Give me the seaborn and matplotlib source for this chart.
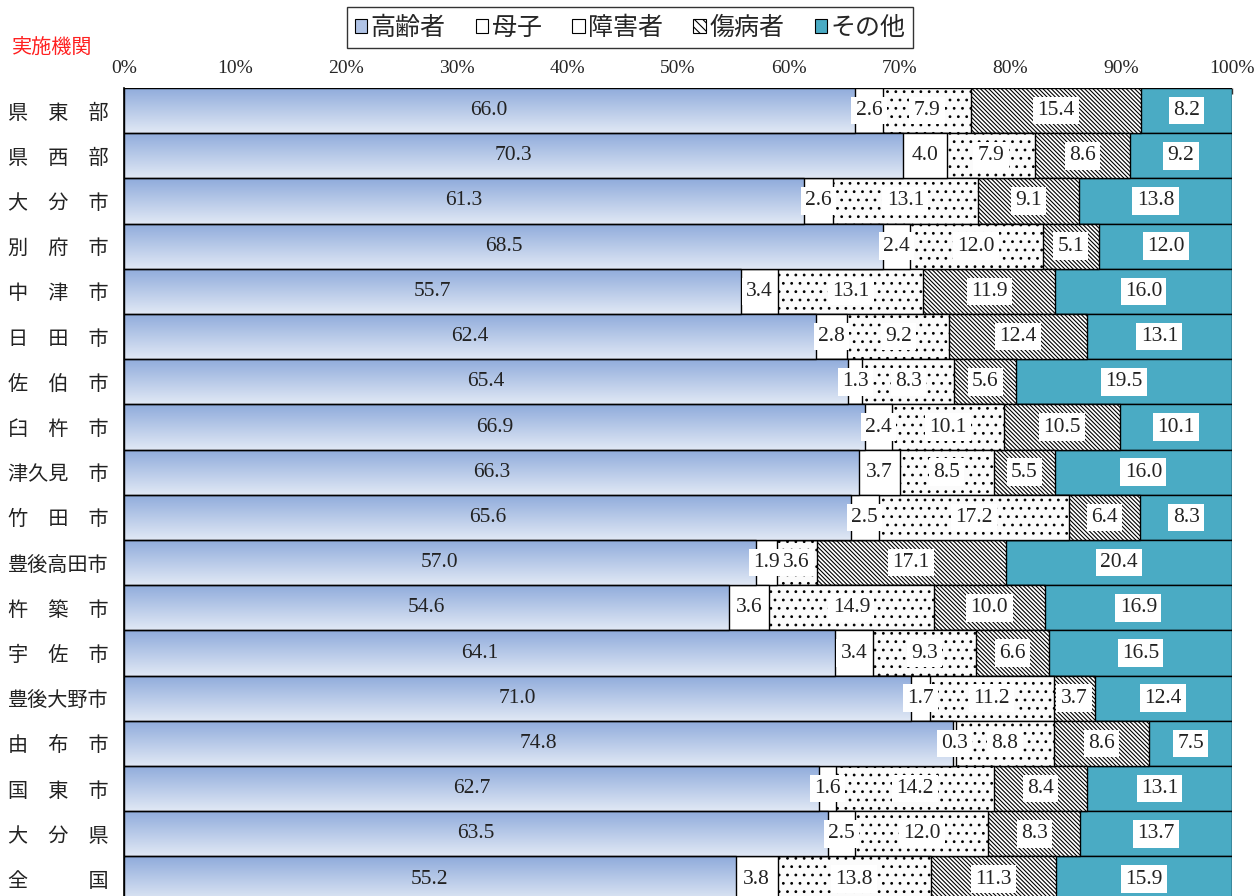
import numpy as np
import pandas as pd
import matplotlib
matplotlib.use("Agg")
import matplotlib.pyplot as plt
from matplotlib.patches import Patch
import seaborn as sns

# 実施機関（行ラベル）
areas = ["県　東　部", "県　西　部", "大　分　市", "別　府　市", "中　津　市",
         "日　田　市", "佐　伯　市", "臼　杵　市", "津久見　市", "竹　田　市",
         "豊後高田市", "杵　築　市", "宇　佐　市", "豊後大野市", "由　布　市",
         "国　東　市", "大　分　県", "全　　　国"]

# 世帯類型別の割合（%）
koreisha = [66.0, 70.3, 61.3, 68.5, 55.7, 62.4, 65.4, 66.9, 66.3, 65.6,
            57.0, 54.6, 64.1, 71.0, 74.8, 62.7, 63.5, 55.2]
boshi = [2.6, 4.0, 2.6, 2.4, 3.4, 2.8, 1.3, 2.4, 3.7, 2.5,
         1.9, 3.6, 3.4, 1.7, 0.3, 1.6, 2.5, 3.8]
shogaisha = [7.9, 7.9, 13.1, 12.0, 13.1, 9.2, 8.3, 10.1, 8.5, 17.2,
             3.6, 14.9, 9.3, 11.2, 8.8, 14.2, 12.0, 13.8]
shobyosha = [15.4, 8.6, 9.1, 5.1, 11.9, 12.4, 5.6, 10.5, 5.5, 6.4,
             17.1, 10.0, 6.6, 3.7, 8.6, 8.4, 8.3, 11.3]
sonota = [8.2, 9.2, 13.8, 12.0, 16.0, 13.1, 19.5, 10.1, 16.0, 8.3,
          20.4, 16.9, 16.5, 12.4, 7.5, 13.1, 13.7, 15.9]

series_names = ["高齢者", "母子", "障害者", "傷病者", "その他"]
x_ticks = [0, 10, 20, 30, 40, 50, 60, 70, 80, 90, 100]

sns.set_theme(style="white")
plt.rcParams["font.family"] = ["Noto Sans CJK JP", "DejaVu Sans"]
plt.rcParams["hatch.linewidth"] = 0.8
NUM_FONT = ["Liberation Serif", "DejaVu Serif"]

vals = np.array([koreisha, boshi, shogaisha, shobyosha, sonota])
pct = vals / vals.sum(axis=0) * 100
cum = np.cumsum(pct, axis=0)

fig = plt.figure(figsize=(12.54, 8.96), dpi=100)
ax = fig.add_axes([0.0989, -0.0063, 0.8836, 0.9081])

styles = [
    dict(color="none", hatch=None),
    dict(color="white", hatch=None),
    dict(color="#fbfbfb", hatch=".."),
    dict(color="white", hatch="\\" * 8),
    dict(color="#4aabc4", hatch=None),
]

# 累積値を後ろの系列から順に重ねて描く
for i in range(4, -1, -1):
    df = pd.DataFrame({"area": areas, "value": cum[i]})
    st = styles[i]
    sns.barplot(data=df, x="value", y="area", orient="h", ax=ax, width=1.0,
                color=st["color"], hatch=st["hatch"], edgecolor="black",
                linewidth=1.0, zorder=3 if i == 0 else 2, saturation=1)

# 高齢者のグラデーション
grad = np.linspace(0, 1, 64)[:, None]
top_c = np.array([0.56, 0.67, 0.86])
bot_c = np.array([0.88, 0.91, 0.96])
img = (top_c[None, None, :] * (1 - grad[:, :, None]) + bot_c[None, None, :] * grad[:, :, None])
for p in ax.containers[-1]:
    x0, y0, w, h = p.get_x(), p.get_y(), p.get_width(), p.get_height()
    im = ax.imshow(img, extent=(x0, x0 + w, y0 + h, y0), origin="upper",
                   aspect="auto", zorder=2.5, interpolation="bilinear")
    im.set_clip_path(p)

ax.set_xlim(0, 100)
ax.set_ylim(len(areas) - 0.5, -0.5)

# 数値ラベル
starts = np.vstack([np.zeros(len(areas)), cum[:-1]])
for i in range(5):
    for j in range(len(areas)):
        xc = starts[i, j] + pct[i, j] / 2
        box = None if i == 0 else dict(boxstyle="square,pad=0.2", fc="white", ec="none")
        ax.text(xc, j, f"{vals[i, j]:.1f}", ha="center", va="center",
                fontsize=15.5, family=NUM_FONT, color="#222222", bbox=box, zorder=5)

ax.xaxis.tick_top()
ax.set_xticks(x_ticks)
ax.set_xticklabels([f"{t}%" for t in x_ticks], family=NUM_FONT, fontsize=14)
ax.tick_params(axis="x", direction="in", length=4, width=1, color="#333333", pad=8, top=True)
ax.tick_params(axis="y", length=0, pad=83.5)
ax.set_yticks(range(len(areas)))
ax.set_yticklabels(areas, fontsize=14.5, color="#222222", ha="left")
ax.set_xlabel("")
ax.set_ylabel("")
for s in ["top", "right", "bottom"]:
    ax.spines[s].set_visible(False)
ax.spines["left"].set_color("black")
ax.spines["left"].set_linewidth(1.2)

fig.text(0.0096, 0.947, "実施機関", color="#ff2020", fontsize=14.5, va="center", ha="left")

handles = [
    Patch(facecolor="#b0c3e6", edgecolor="black", linewidth=0.8),
    Patch(facecolor="white", edgecolor="black", linewidth=0.8),
    Patch(facecolor="white", edgecolor="black", linewidth=0.8),
    Patch(facecolor="white", edgecolor="black", linewidth=0.8, hatch="\\" * 4),
    Patch(facecolor="#4aabc4", edgecolor="black", linewidth=0.8),
]
leg = fig.legend(handles, series_names, loc="center", bbox_to_anchor=(0.5025, 0.969),
                 ncol=5, frameon=True, fancybox=False, fontsize=18,
                 handlelength=0.5, handleheight=0.5, handletextpad=0.15,
                 columnspacing=1.2, borderpad=0.3)
leg.get_frame().set_edgecolor("black")
leg.get_frame().set_linewidth(1.0)

fig.savefig("out.png", dpi=100)
